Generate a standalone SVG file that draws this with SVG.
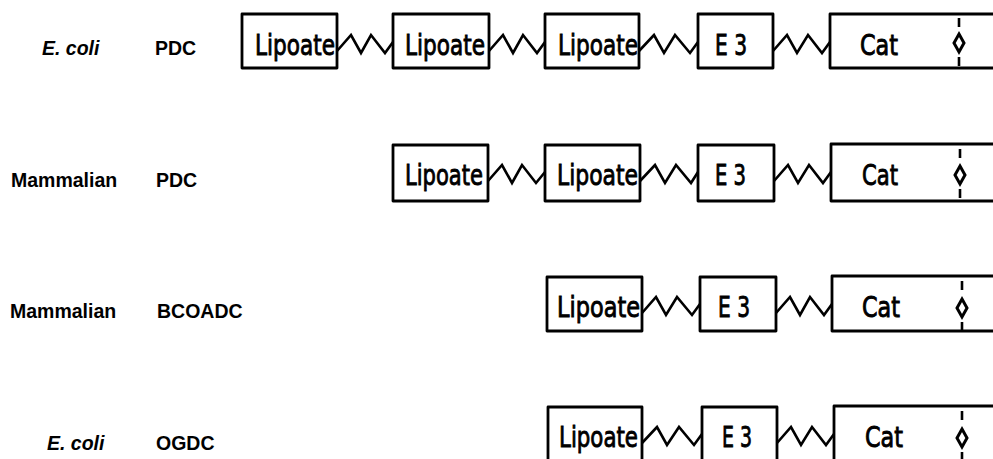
<svg xmlns="http://www.w3.org/2000/svg" width="993" height="459" viewBox="0 0 993 459">
<style>
.box{fill:none;stroke:#000;stroke-width:2.8;stroke-linejoin:round}
.zz{fill:none;stroke:#000;stroke-width:2.6;stroke-linejoin:miter}
.dm{fill:none;stroke:#000;stroke-width:3}
.ds{stroke:#000;stroke-width:2.6}
.t{font-family:"DejaVu Sans","Liberation Sans",sans-serif;font-size:28px;fill:#000;stroke:#000;stroke-width:0.9}
.s{font-family:"Liberation Sans",Arial,sans-serif;font-size:19.5px;font-weight:bold;fill:#000}
.i{font-style:italic}
</style>
<rect width="993" height="459" fill="#fff"/>
<g id="labels">
<text class="s i" x="42" y="55">E. coli</text>
<text class="s" x="155" y="55">PDC</text>
<text class="s" x="11" y="187">Mammalian</text>
<text class="s" x="156" y="187">PDC</text>
<text class="s" x="10" y="318">Mammalian</text>
<text class="s" x="157" y="318">BCOADC</text>
<text class="s i" x="47" y="450">E. coli</text>
<text class="s" x="156" y="450">OGDC</text>
</g>
<g id="row1">
<g id="r1-lip1"><rect class="box" x="242" y="14" width="95" height="54"/><text class="t" x="255" y="55" textLength="80" lengthAdjust="spacingAndGlyphs">Lipoate</text></g>
<g id="r1-lip2"><rect class="box" x="393" y="14" width="96" height="54"/><text class="t" x="405" y="55" textLength="80" lengthAdjust="spacingAndGlyphs">Lipoate</text></g>
<g id="r1-lip3"><rect class="box" x="545" y="14" width="94" height="54"/><text class="t" x="558" y="55" textLength="80" lengthAdjust="spacingAndGlyphs">Lipoate</text></g>
<g id="r1-e3"><rect class="box" x="698" y="14" width="75" height="54"/><text class="t" x="715" y="55" textLength="32" lengthAdjust="spacingAndGlyphs">E 3</text></g>
<g id="r1-cat"><path class="box" d="M996 14 H830 V68 H996"/><text class="t" x="860" y="55" textLength="38" lengthAdjust="spacingAndGlyphs">Cat</text>
<line class="ds" x1="959" y1="18" x2="959" y2="27"/><path class="dm" d="M959 34 L964 43 L959 52 L954 43 Z"/><line class="ds" x1="959" y1="57" x2="959" y2="66"/></g>
</g>
<g id="row2">
<g id="r2-lip1"><rect class="box" x="393" y="145" width="95" height="56"/><text class="t" x="405" y="185" textLength="78" lengthAdjust="spacingAndGlyphs">Lipoate</text></g>
<g id="r2-lip2"><rect class="box" x="545" y="145" width="95" height="56"/><text class="t" x="557" y="185" textLength="81" lengthAdjust="spacingAndGlyphs">Lipoate</text></g>
<g id="r2-e3"><rect class="box" x="698" y="145" width="76" height="56"/><text class="t" x="715" y="185" textLength="31" lengthAdjust="spacingAndGlyphs">E 3</text></g>
<g id="r2-cat"><path class="box" d="M996 144 H831 V201 H996"/><text class="t" x="862" y="185" textLength="36" lengthAdjust="spacingAndGlyphs">Cat</text>
<line class="ds" x1="960" y1="149" x2="960" y2="158"/><path class="dm" d="M960 166 L965 175 L960 184 L955 175 Z"/><line class="ds" x1="960" y1="189" x2="960" y2="198"/></g>
</g>
<g id="row3">
<g id="r3-lip"><rect class="box" x="547" y="277" width="95" height="54"/><text class="t" x="557" y="317" textLength="83" lengthAdjust="spacingAndGlyphs">Lipoate</text></g>
<g id="r3-e3"><rect class="box" x="700" y="277" width="76" height="54"/><text class="t" x="718" y="317" textLength="32" lengthAdjust="spacingAndGlyphs">E 3</text></g>
<g id="r3-cat"><path class="box" d="M996 276 H832 V331 H996"/><text class="t" x="862" y="317" textLength="38" lengthAdjust="spacingAndGlyphs">Cat</text>
<line class="ds" x1="962" y1="281" x2="962" y2="290"/><path class="dm" d="M962 299 L967 308 L962 317 L957 308 Z"/><line class="ds" x1="962" y1="322" x2="962" y2="330"/></g>
</g>
<g id="row4">
<g id="r4-lip"><rect class="box" x="548" y="407" width="94" height="56"/><text class="t" x="559" y="447" textLength="79" lengthAdjust="spacingAndGlyphs">Lipoate</text></g>
<g id="r4-e3"><rect class="box" x="702" y="407" width="75" height="56"/><text class="t" x="722" y="447" textLength="30" lengthAdjust="spacingAndGlyphs">E 3</text></g>
<g id="r4-cat"><path class="box" d="M996 406 H834 V463"/><text class="t" x="865" y="447" textLength="38" lengthAdjust="spacingAndGlyphs">Cat</text>
<line class="ds" x1="962" y1="411" x2="962" y2="420"/><path class="dm" d="M962 429 L967 438 L962 447 L957 438 Z"/><line class="ds" x1="962" y1="452" x2="962" y2="460"/></g>
</g>
<g id="connectors">
<polyline class="zz" points="337,51 351,35 361,53 371,35 385,53 393,42"/>
<polyline class="zz" points="489,51 503,35 513,53 523,35 537,53 545,42"/>
<polyline class="zz" points="639,51 654,35 664,53 675,35 690,53 698,42"/>
<polyline class="zz" points="773,51 787,35 797,53 808,35 822,53 830,42"/>
<polyline class="zz" points="488,181 502,165 512,183 522,165 536,183 545,172"/>
<polyline class="zz" points="640,181 655,165 665,183 676,165 691,183 698,172"/>
<polyline class="zz" points="774,181 788,165 798,183 809,165 823,183 831,172"/>
<polyline class="zz" points="642,313 656,297 666,315 677,297 692,315 700,304"/>
<polyline class="zz" points="776,313 790,297 800,315 810,297 824,315 832,304"/>
<polyline class="zz" points="642,443 657,427 667,445 679,427 694,445 702,434"/>
<polyline class="zz" points="777,443 791,427 801,445 812,427 826,445 834,434"/>
</g>
</svg>
